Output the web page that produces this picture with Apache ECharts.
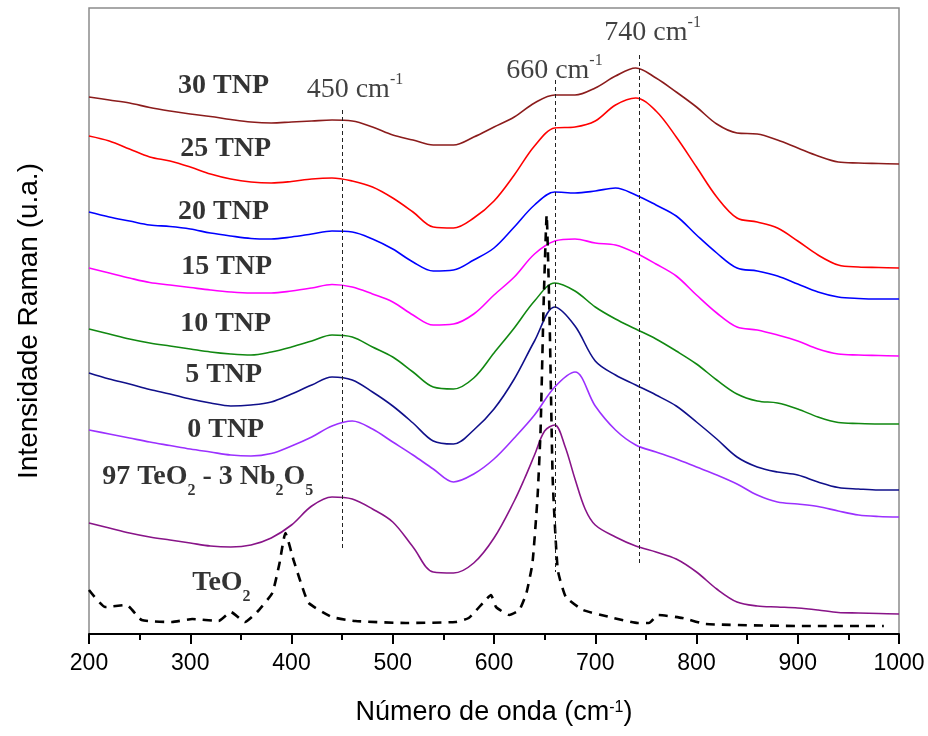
<!DOCTYPE html>
<html>
<head>
<meta charset="utf-8">
<script src="https://cdn.jsdelivr.net/npm/echarts@6/dist/echarts.min.js"></script>
<style>html,body{margin:0;padding:0;background:#fff}#c{width:928px;height:736px}</style>
</head>
<body>
<div id="c"></div>
<script>
// Raman shift (cm-1)
const wn = [200,220,240,260,280,300,320,340,360,380,400,420,440,460,480,500,520,540,560,580,600,620,640,660,680,700,720,740,760,780,800,820,840,860,880,900,920,940,960,980,1000];
// offset intensities (a.u.)
const y30 = [537,534,531,526.5,523,520,517.5,514.5,512,511,512,513,514,513,507,499,494,489,489,497,507,517,531,539,539,546,558,566,556,542,527,510,501,500,494,486,478,472,471,470.5,470];
const y25 = [498,493,485,477,473,467,460,455,452,451,452.5,455,456,453,447,436,422,407,406,416,433,459,488,506,507,513,529,536,523,497,467,437,416,412,406,393,379,369,367,366.5,366];
const y20 = [422,417,413,409,407.5,405,401,398,395.5,395,397,400,403,402,395,385,372,363,364,374,386,407,429,442,441,443,446,439,429,418,399,381,366,363,358,350,342,337,335.5,335,335];
const y15 = [366,361,356,351.5,349,346.5,344,342,341,341,343,346,349.5,347,340,332,319,309,310,320,339,357,380,393,395,391,389,381,370,358,339,321,307,304,299,293,285,280,279,278.5,278];
const y10 = [305,300,295,291,288,285,282,280,279,282,287,293,299,297,287,277,262,247,245,256,281,306,333,351,343,327,315,305,295,283,270,254,240,233,231,225,217,211.5,210.5,210,210];
const y5 = [261,255,250,244.5,240,235,231,228,229,232,240,249,257,254,242,228,211,193,190,204,225,255,293,327,308,273,259,249,239,228,212,195,177,167,162,159,152,146.5,145,144,144];
const y0 = [204,200,196,192,188.5,185,182,179,178,180.5,188,197,208,213,205,192,179,165,152,160,175,196,219,247,262,228,204,189,182,175,167,159,150,139,132,130,127.5,123,119,117.5,117];
const wn97 = [200,220,240,260,280,300,320,340,360,380,400,420,440,460,480,500,520,540,560,580,600,620,630,640,650,660,670,680,690,700,720,740,760,780,800,820,840,860,880,900,920,940,960,980,1000];
const y97 = [111,106,101,97,94,91,88,87,89,96,109,128,137,135,125,112,87,62,61,71,96,133,155,179,203,209,188,155,125,109,97,88,82,75,62,45,32,28,27,26,24,21.5,21,20.5,20];
const wnTeO2 = [200,216,237,252,282,302,328,340,354,366,381,388,394,402,410,417,440,463,513,562,575,589,597,602,615,625,632,638,643,646,649,652,655,658,663,671,688,714,742,753,762,786,809,901,985];
const yTeO2 = [44,27,29,14,12,15,13,22,12,22,41,70,101,74,49,31,17,13,11,12,16,31,39,27,19,24,41,71,137,204,330,419,310,154,64,37,24,17,11,11,19,16,10,8,8];

const seriesNames = ['30 TNP','25 TNP','20 TNP','15 TNP','10 TNP','5 TNP','0 TNP','97 TeO2 - 3 Nb2O5','TeO2'];
const seriesX = [wn,wn,wn,wn,wn,wn,wn,wn97,wnTeO2];
const seriesY = [y30,y25,y20,y15,y10,y5,y0,y97,yTeO2];
const seriesLabelText = ['{b|30 TNP}','{b|25 TNP}','{b|20 TNP}','{b|15 TNP}','{b|10 TNP}','{b|5 TNP}','{b|0 TNP}',
  '{b|97 TeO}{bs|2}{b| - 3 Nb}{bs|2}{b|O}{bs|5}','{b|TeO}{bs|2}'];
const peakLines = [450, 660, 743.5];
const peakLabelText = ['{r|450 cm}{rs|-1}','{r|660 cm}{rs|-1}','{r|740 cm}{rs|-1}'];
const xTicks = {min:200, max:1000, interval:100};

// layout / style (kept separate from data)
const colors = ['#8B1C1C','#FF0000','#0000FF','#FF00FF','#118811','#10108A','#9B30FF','#881488','#000000'];
const seriesLabelPos = [[288,548],[290,485.5],[288,422],[291,367],[290,310.5],[295,259],[297,204],[213,157],[302,51]];
const peakLabelPos = [[415,544],[612,563],[709,601.5]];
const peakLineSpan = [[524,83],[554,62],[579,71]];

const chart = echarts.init(document.getElementById('c'), null, {renderer:'canvas'});
const series = [];
seriesY.forEach((ys,i) => {
  const isRef = i === seriesY.length-1;
  series.push({
    name: seriesNames[i], type:'line', data: ys.map((v,j)=>[seriesX[i][j], v]),
    showSymbol:false, smooth: isRef ? 0.15 : 0.34,
    z: isRef ? 4 : 3,
    lineStyle: isRef ? {color:'#000', width:2.6, type:[9,7]} : {color:colors[i], width:1.6},
    silent:true
  });
});
// vertical reference lines
series.push({
  type:'line', data:[], silent:true,
  markLine:{
    symbol:['none','none'], silent:true, label:{show:false},
    lineStyle:{color:'#222', width:1, type:[4,3]},
    data: peakLines.map((x,i)=>[{coord:[x,peakLineSpan[i][0]]},{coord:[x,peakLineSpan[i][1]]}])
  }
});
const rich = {
  b:{fontFamily:'Liberation Serif', fontWeight:'bold', fontSize:28, lineHeight:30, color:'#000'},
  bs:{fontFamily:'Liberation Serif', fontWeight:'bold', fontSize:16, lineHeight:16, padding:[28,0,0,0], color:'#000'},
  r:{fontFamily:'Liberation Serif', fontSize:28, lineHeight:30, color:'#111'},
  rs:{fontFamily:'Liberation Serif', fontSize:16, lineHeight:16, padding:[0,0,20,0], color:'#111'}
};
const labelPts = seriesLabelPos.map((p,i)=>({value:p, label:{formatter:seriesLabelText[i]}}))
  .concat(peakLabelPos.map((p,i)=>({value:p, label:{formatter:peakLabelText[i]}})));
series.push({
  type:'scatter', symbolSize:0, silent:true, z:6, data:labelPts,
  label:{show:true, position:'right', distance:0, color:'#000', rich:rich}
});

chart.setOption({
  animation:false,
  backgroundColor:'#fff',
  grid:{left:89, right:29, top:8, bottom:102, show:true, borderColor:'#8c8c8c', borderWidth:1.5, backgroundColor:'transparent'},
  xAxis:{
    type:'value', min:xTicks.min, max:xTicks.max, interval:xTicks.interval,
    axisLine:{show:true, onZero:false, lineStyle:{color:'#000', width:2}},
    axisTick:{show:true, inside:false, length:10, lineStyle:{color:'#000', width:2}},
    minorTick:{show:true, splitNumber:2, length:6, lineStyle:{color:'#000', width:2}},
    splitLine:{show:false},
    axisLabel:{fontFamily:'Liberation Sans', fontSize:23, color:'#000', margin:18, formatter:v=>String(v)},
    name:'{t|Número de onda (cm}{s|-1}{t|)}', nameLocation:'middle', nameGap:64,
    nameTextStyle:{rich:{
      t:{fontFamily:'Liberation Sans', fontSize:27, lineHeight:30, color:'#000'},
      s:{fontFamily:'Liberation Sans', fontSize:16, lineHeight:16, padding:[0,0,10,0], color:'#000'}
    }}
  },
  yAxis:{
    type:'value', min:0, max:626,
    axisLine:{show:false}, axisTick:{show:false}, axisLabel:{show:false}, splitLine:{show:false},
    name:'Intensidade Raman (u.a.)', nameLocation:'middle', nameRotate:90, nameGap:46,
    nameTextStyle:{fontFamily:'Liberation Sans', fontSize:28, color:'#000'}
  },
  series:series
});
</script>
</body>
</html>
